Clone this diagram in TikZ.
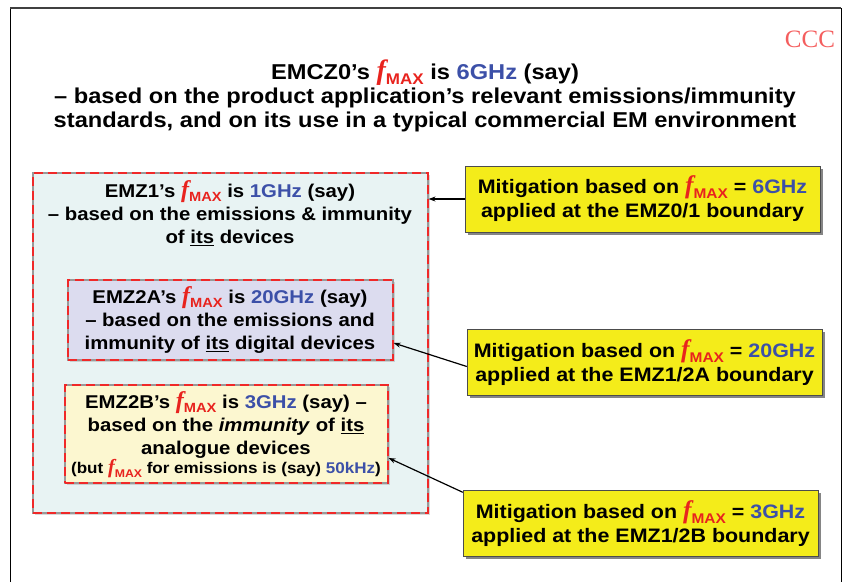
\documentclass[tikz,border=0pt]{standalone}
\usepackage{fontspec}
\setmainfont[FakeStretch=1.1]{Liberation Sans}
\newfontfamily\seriffont{Liberation Serif}
\usetikzlibrary{shadows,arrows.meta}
\definecolor{fred}{HTML}{E8231E}
\definecolor{ghzblue}{HTML}{3C50A8}
\definecolor{zonered}{HTML}{F02828}
\definecolor{outerfill}{HTML}{E8F3F3}
\definecolor{afill}{HTML}{DCDCEF}
\definecolor{bfill}{HTML}{FCF7D0}
\definecolor{mitfill}{HTML}{F4EC1A}
\newcommand{\fmax}{\textcolor{fred}{\scalebox{1.3}{\seriffont\itshape f}\raisebox{-0.45ex}{\scalebox{0.72}{MAX}}}}
\newcommand{\ghz}[1]{\textcolor{ghzblue}{#1}}
\begin{document}
\begin{tikzpicture}[x=1pt,y=-1pt,
  zone/.style={draw=gray!80,line width=1.2pt,inner sep=0pt,
    postaction={draw=zonered,line width=2.6pt,dash pattern=on 9pt off 5pt}},
  boxtext/.style={align=center,font=\fontsize{18.5}{23}\selectfont\bfseries},
  mitbox/.style={draw=black!70,thin,fill=mitfill,
    drop shadow={shadow xshift=2.5pt,shadow yshift=-2.5pt,fill=black!60,opacity=.8},
    minimum width=355pt,minimum height=66pt,align=center,
    font=\fontsize{19.5}{24}\selectfont\bfseries},
  link/.style={-{Stealth[length=7pt,width=5pt]},line width=1.2pt}]
\useasboundingbox (0,0) rectangle (849,582);
% frame
\draw[line width=.8pt] (10,582) -- (10,8) -- (841,8) -- (841,582);
\draw[black!75,line width=2pt] (10,8) -- (841,8);
\node[text=zonered!75,font=\seriffont\fontsize{25}{25}\selectfont] (ccc) at (810,39) {CCC};
% title
\node[align=center,font=\fontsize{21.5}{24}\selectfont\bfseries] (title) at (425,96)
  {EMCZ0's \fmax{} is \ghz{6GHz} (say)\\
   -- based on the product application's relevant emissions/immunity\\
   standards, and on its use in a typical commercial EM environment};
% zones
\node[zone,fill=outerfill,minimum width=395pt,minimum height=340pt,
  drop shadow={shadow xshift=1.5pt,shadow yshift=-1.5pt,opacity=.3}] (emz1) at (230.5,343) {};
\node[zone,fill=afill,minimum width=325pt,minimum height=80pt,
  drop shadow={shadow xshift=1.5pt,shadow yshift=-1.5pt,opacity=.3}] (emz2a) at (230.5,320) {};
\node[zone,fill=bfill,minimum width=323pt,minimum height=98pt,
  drop shadow={shadow xshift=1.5pt,shadow yshift=-1.5pt,opacity=.3}] (emz2b) at (226.5,434) {};
\node[boxtext] (emz1txt) at (230,213)
  {EMZ1's \fmax{} is \ghz{1GHz} (say)\\
   -- based on the emissions \& immunity\\
   of \underline{its} devices};
\node[boxtext] (emz2atxt) at (230,320)
  {EMZ2A's \fmax{} is \ghz{20GHz} (say)\\
   -- based on the emissions and\\
   immunity of \underline{its} digital devices};
\node[boxtext] (emz2btxt) at (226,425)
  {EMZ2B's \fmax{} is \ghz{3GHz} (say) --\\
   based on the \textit{immunity} of \underline{its}\\
   analogue devices};
\node[font=\fontsize{15.5}{17}\selectfont\bfseries] (emz2bnote) at (226,469)
  {(but \fmax{} for emissions is (say) \ghz{50kHz})};
% mitigation boxes
\node[mitbox] (mit1) at (642.5,199)
  {Mitigation based on \fmax{} = \ghz{6GHz}\\ applied at the EMZ0/1 boundary};
\node[mitbox] (mit2) at (644.5,362.5)
  {Mitigation based on \fmax{} = \ghz{20GHz}\\ applied at the EMZ1/2A boundary};
\node[mitbox] (mit3) at (640.5,523.5)
  {Mitigation based on \fmax{} = \ghz{3GHz}\\ applied at the EMZ1/2B boundary};
% arrows
\draw[link] (mit1.west) -- (mit1.west -| emz1.east);
\draw[link] ([yshift=-4pt]mit2.west) -- ([yshift=-23pt]emz2a.east);
\draw[link] ([yshift=-2pt]mit3.north west) -- ([yshift=-24pt]emz2b.east);
\end{tikzpicture}
\end{document}
